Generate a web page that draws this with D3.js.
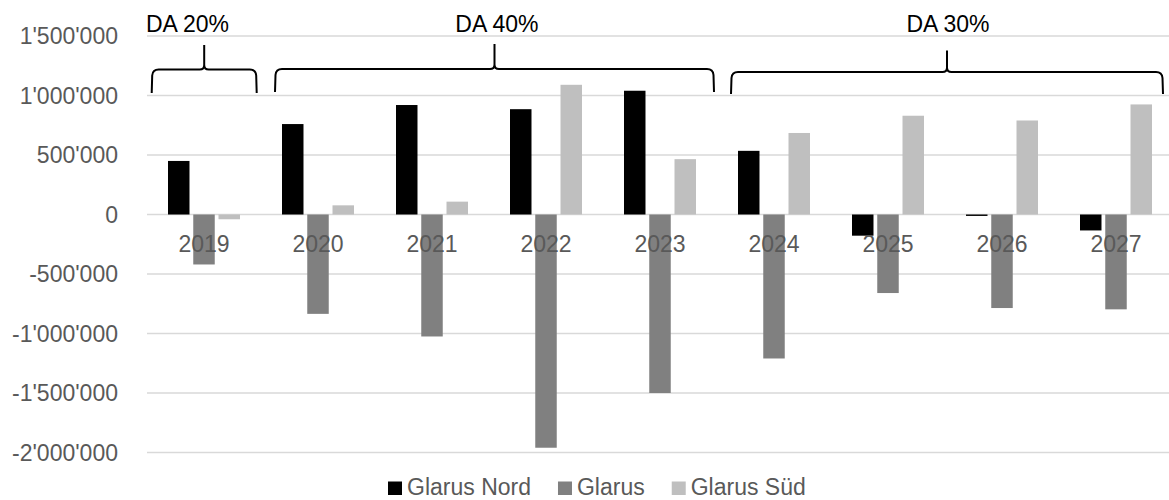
<!DOCTYPE html>
<html>
<head>
<meta charset="utf-8">
<script src="https://cdn.jsdelivr.net/npm/d3@7"></script>
<style>
  html, body { margin: 0; padding: 0; background: #fff; }
  svg { display: block; font-family: "Liberation Sans", Arial, sans-serif; }
</style>
</head>
<body>
<svg id="chart" width="1169" height="500"></svg>
<script>
// ---- data ----
const categories = ["2019", "2020", "2021", "2022", "2023", "2024", "2025", "2026", "2027"];
const seriesNames = ["Glarus Nord", "Glarus", "Glarus Süd"];
const glarusNord = [450000, 760000, 920000, 885000, 1040000, 535000, -178000, -12000, -134000];
const glarus = [-420000, -835000, -1025000, -1960000, -1500000, -1210000, -660000, -786000, -797000];
const glarusSued = [-40000, 77000, 108000, 1090000, 465000, 685000, 830000, 790000, 925000];
const yTicks = [1500000, 1000000, 500000, 0, -500000, -1000000, -1500000, -2000000];
const braceLabels = ["DA 20%", "DA 40%", "DA 30%"];
const braceFrom = ["2019", "2020", "2024"];
const braceTo = ["2019", "2023", "2027"];

// ---- layout ----
const W = 1169, H = 500;
const plotLeft = 147, plotRight = 1173;
const yTop = 36, yBottom = 452.5;
const colors = ["#000000", "#808080", "#bfbfbf"];
const textGray = "#595959";
const fontSize = 23;

const svg = d3.select("#chart");

const x = d3.scaleBand().domain(categories).range([plotLeft, plotRight]).paddingInner(0).paddingOuter(0);
const xs = d3.scaleBand().domain(seriesNames).range([21, 93]).paddingInner(0.149).paddingOuter(0);
const y = d3.scaleLinear().domain([-2000000, 1500000]).range([yBottom, yTop]);

const locale = d3.formatLocale({ decimal: ".", thousands: "'", grouping: [3], currency: ["", ""], minus: "-" });
const fmt = locale.format(",d");

// gridlines
svg.append("g").selectAll("line").data(yTicks).join("line")
  .attr("x1", plotLeft).attr("x2", plotRight)
  .attr("y1", d => y(d)).attr("y2", d => y(d))
  .attr("stroke", "#d9d9d9").attr("stroke-width", 1.5);

// y-axis labels
svg.append("g").selectAll("text").data(yTicks).join("text")
  .attr("x", 118).attr("y", d => y(d)).attr("dy", "0.35em")
  .attr("text-anchor", "end").attr("font-size", fontSize).attr("fill", textGray)
  .text(d => fmt(d));

// bars
const seriesValues = [glarusNord, glarus, glarusSued];
const rows = [];
seriesValues.forEach((vals, si) => vals.forEach((v, ci) => rows.push({ s: seriesNames[si], si, c: categories[ci], v })));
svg.append("g").selectAll("rect").data(rows).join("rect")
  .attr("x", d => x(d.c) + xs(d.s))
  .attr("width", xs.bandwidth())
  .attr("y", d => Math.min(y(d.v), y(0)))
  .attr("height", d => Math.abs(y(d.v) - y(0)))
  .attr("fill", d => colors[d.si]);

// x category labels
svg.append("g").selectAll("text").data(categories).join("text")
  .attr("x", d => x(d) + x.bandwidth() / 2)
  .attr("y", y(0) + 37)
  .attr("text-anchor", "middle").attr("font-size", fontSize).attr("fill", textGray)
  .text(d => d);

// braces
const braceInsetL = [4.7, 14, 14];
const braceInsetR = [4.3, 3, 10];
const braceYH = [69.5, 69, 72];
const braceYT = [45, 44, 50.5];
const braceYB = [93, 92, 94];
const labelDx = [-16.7, 2.4, 1];
braceLabels.forEach((lab, i) => {
  const x1 = x(braceFrom[i]) + braceInsetL[i];
  const x2 = x(braceTo[i]) + x.bandwidth() - braceInsetR[i];
  const xm = (x1 + x2) / 2;
  const yh = braceYH[i], yt = braceYT[i], yb = braceYB[i];
  const r = 6, r2 = 4.5;
  const p = `M${x1},${yb} L${x1 + 0.5},${yh + r} Q${x1 + 1},${yh} ${x1 + r + 1},${yh} L${xm - r2},${yh} Q${xm},${yh} ${xm},${yh - r2} L${xm},${yt} M${xm},${yh - r2} Q${xm},${yh} ${xm + r2},${yh} L${x2 - r - 1},${yh} Q${x2 - 1},${yh} ${x2 - 0.5},${yh + r} L${x2},${yb}`;
  svg.append("path").attr("d", p).attr("fill", "none").attr("stroke", "#000").attr("stroke-width", 2);
  svg.append("text").attr("x", xm + labelDx[i]).attr("y", 32.3)
    .attr("text-anchor", "middle").attr("font-size", fontSize).attr("fill", "#000")
    .text(lab);
});

// legend
const legend = svg.append("g");
let lx = 388;
seriesNames.forEach((name, i) => {
  legend.append("rect").attr("x", lx).attr("y", 481.5).attr("width", 14).attr("height", 13.5).attr("fill", colors[i]);
  const t = legend.append("text").attr("x", lx + 19).attr("y", 494.5)
    .attr("font-size", fontSize).attr("fill", textGray).text(name);
  lx += 19 + t.node().getComputedTextLength() + 27;
});
</script>
</body>
</html>
